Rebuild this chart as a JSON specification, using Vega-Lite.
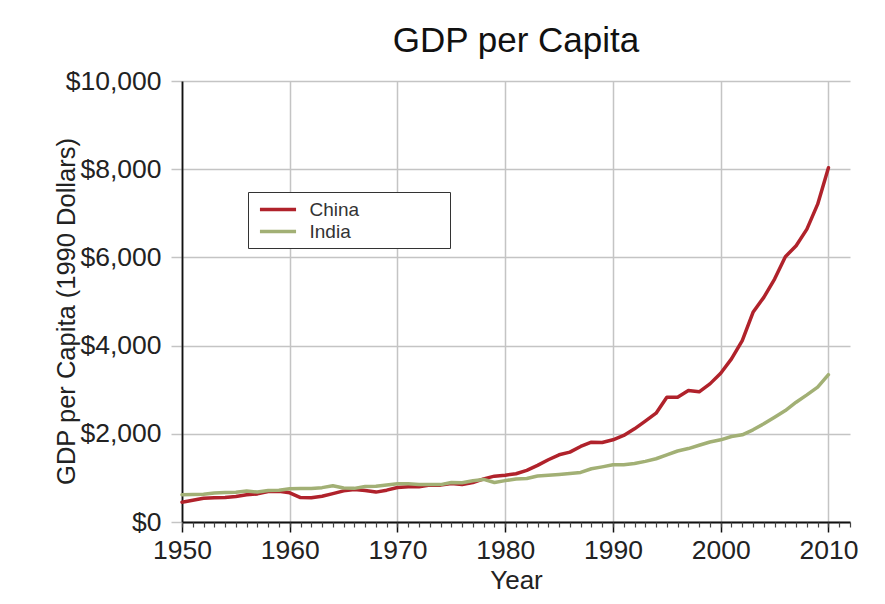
{
  "$schema": "https://vega.github.io/schema/vega-lite/v6.json",
  "autosize": {"type": "none"},
  "width": 668,
  "height": 441,
  "padding": {"left": 182, "top": 81, "right": 35, "bottom": 82},
  "background": "white",
  "config": {
    "font": "Liberation Sans",
    "view": {"stroke": null},
    "axis": {"labelColor": "#222", "titleColor": "#222", "titleFontWeight": "normal"}
  },
  "title": {
    "text": "GDP per Capita",
    "fontSize": 35,
    "fontWeight": "normal",
    "color": "#111",
    "anchor": "middle",
    "offset": 9
  },
  "datasets": {
    "gdp": [
      {"year": 1950, "country": "China", "gdp": 448}, {"year": 1951, "country": "China", "gdp": 491},
      {"year": 1952, "country": "China", "gdp": 538}, {"year": 1953, "country": "China", "gdp": 552},
      {"year": 1954, "country": "China", "gdp": 556}, {"year": 1955, "country": "China", "gdp": 577},
      {"year": 1956, "country": "China", "gdp": 616}, {"year": 1957, "country": "China", "gdp": 637},
      {"year": 1958, "country": "China", "gdp": 693}, {"year": 1959, "country": "China", "gdp": 697},
      {"year": 1960, "country": "China", "gdp": 662}, {"year": 1961, "country": "China", "gdp": 553},
      {"year": 1962, "country": "China", "gdp": 550}, {"year": 1963, "country": "China", "gdp": 585},
      {"year": 1964, "country": "China", "gdp": 644}, {"year": 1965, "country": "China", "gdp": 706},
      {"year": 1966, "country": "China", "gdp": 735}, {"year": 1967, "country": "China", "gdp": 712},
      {"year": 1968, "country": "China", "gdp": 678}, {"year": 1969, "country": "China", "gdp": 722},
      {"year": 1970, "country": "China", "gdp": 783}, {"year": 1971, "country": "China", "gdp": 799},
      {"year": 1972, "country": "China", "gdp": 799}, {"year": 1973, "country": "China", "gdp": 839},
      {"year": 1974, "country": "China", "gdp": 836}, {"year": 1975, "country": "China", "gdp": 874},
      {"year": 1976, "country": "China", "gdp": 852}, {"year": 1977, "country": "China", "gdp": 895},
      {"year": 1978, "country": "China", "gdp": 979}, {"year": 1979, "country": "China", "gdp": 1040},
      {"year": 1980, "country": "China", "gdp": 1061}, {"year": 1981, "country": "China", "gdp": 1095},
      {"year": 1982, "country": "China", "gdp": 1170}, {"year": 1983, "country": "China", "gdp": 1283},
      {"year": 1984, "country": "China", "gdp": 1411}, {"year": 1985, "country": "China", "gdp": 1524},
      {"year": 1986, "country": "China", "gdp": 1585}, {"year": 1987, "country": "China", "gdp": 1713},
      {"year": 1988, "country": "China", "gdp": 1811}, {"year": 1989, "country": "China", "gdp": 1804},
      {"year": 1990, "country": "China", "gdp": 1864}, {"year": 1991, "country": "China", "gdp": 1962},
      {"year": 1992, "country": "China", "gdp": 2113}, {"year": 1993, "country": "China", "gdp": 2287},
      {"year": 1994, "country": "China", "gdp": 2468}, {"year": 1995, "country": "China", "gdp": 2830},
      {"year": 1996, "country": "China", "gdp": 2830}, {"year": 1997, "country": "China", "gdp": 2981},
      {"year": 1998, "country": "China", "gdp": 2951}, {"year": 1999, "country": "China", "gdp": 3132},
      {"year": 2000, "country": "China", "gdp": 3373}, {"year": 2001, "country": "China", "gdp": 3698},
      {"year": 2002, "country": "China", "gdp": 4113}, {"year": 2003, "country": "China", "gdp": 4755},
      {"year": 2004, "country": "China", "gdp": 5094}, {"year": 2005, "country": "China", "gdp": 5509},
      {"year": 2006, "country": "China", "gdp": 6015}, {"year": 2007, "country": "China", "gdp": 6264},
      {"year": 2008, "country": "China", "gdp": 6641}, {"year": 2009, "country": "China", "gdp": 7207},
      {"year": 2010, "country": "China", "gdp": 8032},
      {"year": 1950, "country": "India", "gdp": 619}, {"year": 1951, "country": "India", "gdp": 623},
      {"year": 1952, "country": "India", "gdp": 629}, {"year": 1953, "country": "India", "gdp": 658},
      {"year": 1954, "country": "India", "gdp": 671}, {"year": 1955, "country": "India", "gdp": 676},
      {"year": 1956, "country": "India", "gdp": 701}, {"year": 1957, "country": "India", "gdp": 680},
      {"year": 1958, "country": "India", "gdp": 716}, {"year": 1959, "country": "India", "gdp": 718},
      {"year": 1960, "country": "India", "gdp": 753}, {"year": 1961, "country": "India", "gdp": 758},
      {"year": 1962, "country": "India", "gdp": 758}, {"year": 1963, "country": "India", "gdp": 779},
      {"year": 1964, "country": "India", "gdp": 822}, {"year": 1965, "country": "India", "gdp": 771},
      {"year": 1966, "country": "India", "gdp": 763}, {"year": 1967, "country": "India", "gdp": 807},
      {"year": 1968, "country": "India", "gdp": 809}, {"year": 1969, "country": "India", "gdp": 841},
      {"year": 1970, "country": "India", "gdp": 868}, {"year": 1971, "country": "India", "gdp": 866},
      {"year": 1972, "country": "India", "gdp": 849}, {"year": 1973, "country": "India", "gdp": 853},
      {"year": 1974, "country": "India", "gdp": 848}, {"year": 1975, "country": "India", "gdp": 897},
      {"year": 1976, "country": "India", "gdp": 889}, {"year": 1977, "country": "India", "gdp": 937},
      {"year": 1978, "country": "India", "gdp": 966}, {"year": 1979, "country": "India", "gdp": 895},
      {"year": 1980, "country": "India", "gdp": 938}, {"year": 1981, "country": "India", "gdp": 977},
      {"year": 1982, "country": "India", "gdp": 985}, {"year": 1983, "country": "India", "gdp": 1043},
      {"year": 1984, "country": "India", "gdp": 1060}, {"year": 1985, "country": "India", "gdp": 1079},
      {"year": 1986, "country": "India", "gdp": 1101}, {"year": 1987, "country": "India", "gdp": 1125},
      {"year": 1988, "country": "India", "gdp": 1207}, {"year": 1989, "country": "India", "gdp": 1250},
      {"year": 1990, "country": "India", "gdp": 1298}, {"year": 1991, "country": "India", "gdp": 1298},
      {"year": 1992, "country": "India", "gdp": 1325}, {"year": 1993, "country": "India", "gdp": 1374},
      {"year": 1994, "country": "India", "gdp": 1434}, {"year": 1995, "country": "India", "gdp": 1524},
      {"year": 1996, "country": "India", "gdp": 1610}, {"year": 1997, "country": "India", "gdp": 1665},
      {"year": 1998, "country": "India", "gdp": 1740}, {"year": 1999, "country": "India", "gdp": 1815},
      {"year": 2000, "country": "India", "gdp": 1864}, {"year": 2001, "country": "India", "gdp": 1939},
      {"year": 2002, "country": "India", "gdp": 1977}, {"year": 2003, "country": "India", "gdp": 2090},
      {"year": 2004, "country": "India", "gdp": 2226}, {"year": 2005, "country": "India", "gdp": 2377},
      {"year": 2006, "country": "India", "gdp": 2528}, {"year": 2007, "country": "India", "gdp": 2717},
      {"year": 2008, "country": "India", "gdp": 2883}, {"year": 2009, "country": "India", "gdp": 3057},
      {"year": 2010, "country": "India", "gdp": 3340}
    ]
  },
  "data": {"name": "gdp"},
  "encoding": {
    "y": {
      "field": "gdp",
      "type": "quantitative",
      "scale": {"domain": [0, 10000], "nice": false},
      "axis": {
        "title": "GDP per Capita (1990 Dollars)",
        "values": [0, 2000, 4000, 6000, 8000, 10000],
        "format": "$,.0f",
        "labelFontSize": 26.5,
        "labelPadding": 10,
        "tickSize": 11,
        "tickColor": "#c4c4c4",
        "tickWidth": 1.5,
        "grid": true,
        "gridColor": "#c4c4c4",
        "gridWidth": 1.5,
        "domainColor": "#111",
        "domainWidth": 1.8,
        "titleFontSize": 25.5,
        "titleAngle": -90,
        "titleX": -116,
        "titleY": 230,
        "titleAlign": "center",
        "titleBaseline": "middle"
      }
    }
  },
  "layer": [
    {
      "mark": {"type": "line", "strokeWidth": 3.5, "strokeJoin": "round", "strokeCap": "round"},
      "encoding": {
        "x": {
          "field": "year",
          "type": "quantitative",
          "scale": {"domain": [1950, 2012], "nice": false},
          "axis": {
            "title": "Year",
            "values": [1950, 1960, 1970, 1980, 1990, 2000, 2010],
            "format": "d",
            "labelFontSize": 26.5,
            "labelPadding": 5,
            "labelFlush": false,
            "tickSize": 10,
            "tickColor": "#111",
            "tickWidth": 1.5,
            "grid": true,
            "gridColor": "#c4c4c4",
            "gridWidth": 1.5,
            "domainColor": "#111",
            "domainWidth": 2.2,
            "titleFontSize": 26,
            "titlePadding": 4
          }
        },
        "color": {
          "field": "country",
          "type": "nominal",
          "scale": {"domain": ["China", "India"], "range": ["#b0222b", "#a2b075"]},
          "legend": {
            "title": null,
            "orient": "none",
            "legendX": 66,
            "legendY": 111,
            "direction": "vertical",
            "symbolType": "M-1.9,0H1.9",
            "symbolSize": 361,
            "symbolStrokeWidth": 3.5,
            "symbolOffset": 12.5,
            "labelFontSize": 19,
            "labelColor": "#333",
            "labelOffset": 20,
            "labelLimit": 400,
            "labelExpr": "datum.label + '\u2800\u2800\u2800\u2800\u2800\u2800'",
            "rowPadding": -5,
            "padding": 6,
            "strokeColor": "#333",
            "fillColor": "white"
          }
        }
      }
    },
    {
      "mark": {"type": "line", "opacity": 0},
      "encoding": {
        "x": {
          "field": "year",
          "type": "quantitative",
          "scale": {"domain": [1950, 2012], "nice": false},
          "axis": {
            "orient": "bottom",
            "title": null,
            "labels": false,
            "grid": false,
            "domain": false,
            "values": [1950, 1951, 1952, 1953, 1954, 1955, 1956, 1957, 1958, 1959, 1960, 1961, 1962, 1963, 1964, 1965, 1966, 1967, 1968, 1969, 1970, 1971, 1972, 1973, 1974, 1975, 1976, 1977, 1978, 1979, 1980, 1981, 1982, 1983, 1984, 1985, 1986, 1987, 1988, 1989, 1990, 1991, 1992, 1993, 1994, 1995, 1996, 1997, 1998, 1999, 2000, 2001, 2002, 2003, 2004, 2005, 2006, 2007, 2008, 2009, 2010, 2011, 2012],
            "tickSize": 5,
            "tickColor": "#444",
            "tickWidth": 1.2
          }
        },
        "detail": {"field": "country", "type": "nominal"}
      }
    }
  ],
  "resolve": {"axis": {"x": "independent"}}
}
